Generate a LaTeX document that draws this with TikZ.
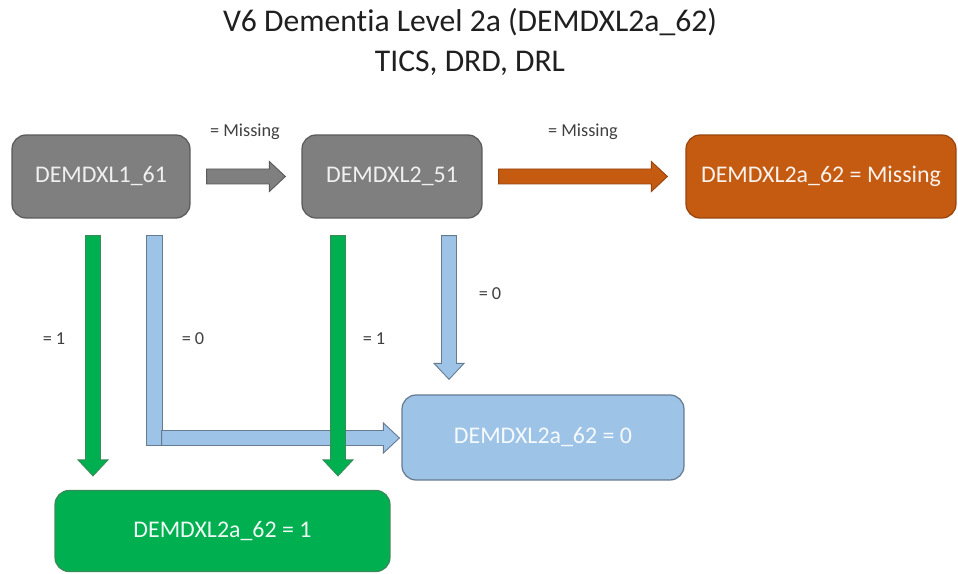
\documentclass[tikz,border=0pt]{standalone}
\usepackage{fontspec}
\setmainfont{Carlito}[Ligatures=NoCommon]
\usetikzlibrary{calc}

\definecolor{boxgray}{HTML}{7F7F7F}
\definecolor{linegray}{HTML}{5A5A5A}
\definecolor{boxorange}{HTML}{C55A11}
\definecolor{lineorange}{HTML}{97440D}
\definecolor{boxblue}{HTML}{9DC3E6}
\definecolor{lineblue}{HTML}{667A90}
\definecolor{boxgreen}{HTML}{00B050}
\definecolor{linegreen}{HTML}{3A8A5A}
\definecolor{labelgray}{HTML}{404040}

\tikzset{
  box/.style={rounded corners=0.28cm, line width=0.7pt, minimum height=1.66cm,
    text=white, font=\fontsize{13.6}{16}\selectfont},
  graybox/.style={box, draw=linegray, fill=boxgray, text=white!88!boxgray},
  orangebox/.style={box, draw=lineorange, fill=boxorange, text=white!92!boxorange},
  bluebox/.style={box, draw=lineblue, fill=boxblue, text=white!92!boxblue},
  greenbox/.style={box, draw=linegreen, fill=boxgreen, text=white!94!boxgreen},
  lbl/.style={text=labelgray, font=\fontsize{10.4}{12}\selectfont},
  % block arrow between two coordinates
  block/.style={line width=0.5pt, line join=miter, to path={
    ($(\tikztostart)!0.15cm!90:(\tikztotarget)$)
    -- ($(\tikztotarget)!0.32cm!(\tikztostart)!0.15cm!-90:(\tikztostart)$)
    -- ($(\tikztotarget)!0.32cm!(\tikztostart)!0.30cm!-90:(\tikztostart)$)
    -- (\tikztotarget)
    -- ($(\tikztotarget)!0.32cm!(\tikztostart)!0.30cm!90:(\tikztostart)$)
    -- ($(\tikztotarget)!0.32cm!(\tikztostart)!0.15cm!90:(\tikztostart)$)
    -- ($(\tikztostart)!0.15cm!-90:(\tikztotarget)$) -- cycle}},
  grayarrow/.style={block, draw=linegray, fill=boxgray},
  orangearrow/.style={block, draw=lineorange, fill=boxorange},
  bluearrow/.style={block, draw=lineblue, fill=boxblue},
  greenarrow/.style={block, draw=linegreen, fill=boxgreen},
}

\begin{document}
\begin{tikzpicture}[x=0.02cm, y=-0.02cm]
    \useasboundingbox (0,0) rectangle (958,574);

    % title
    \node(title) at (470,42) [align=center, text=black!88,
        font=\fontsize{18}{22.8}\selectfont]
        {V6 Dementia Level 2a (DEMDXL2a\_62)\\TICS, DRD, DRL};

    % boxes
    \node(dxl1) at (101,176.5) [graybox, minimum width=3.56cm] {DEMDXL1\_61};
    \node(dxl2) at (392,176.5) [graybox, minimum width=3.60cm] {DEMDXL2\_51};
    \node(miss) at (821,176.5) [orangebox, minimum width=5.40cm] {DEMDXL2a\_62 = Missing};
    \node(zero) at (543,437.5) [bluebox, minimum width=5.64cm, minimum height=1.70cm] {DEMDXL2a\_62 = 0};
    \node(one)  at (222.5,531) [greenbox, minimum width=6.70cm, minimum height=1.62cm] {DEMDXL2a\_62 = 1};

    % arrow ends
    \coordinate(a1) at ($(dxl1.east)+(16,0)$);
    \coordinate(b1) at ($(dxl2.west)+(-16,0)$);
    \coordinate(a2) at ($(dxl2.east)+(16,0)$);
    \coordinate(b2) at ($(miss.west)+(-18,0)$);
    \coordinate(g1s) at (dxl1.south -| 93,0);
    \coordinate(g1t) at (one.north -| 93,0);
    \coordinate(g2s) at (dxl2.south -| 338,0);
    \coordinate(g2t) at (one.north -| 338,0);
    \coordinate(bls) at (146,235);
    \coordinate(blc) at (162,445);
    \coordinate(blj) at (161.6,438);
    \coordinate(blt) at ($(zero.west)+(-2,0.5)$);
    \coordinate(b3s) at (dxl2.south -| 449,0);
    \coordinate(b3t) at (zero.north -| 449,0);

    %%%%% Arrows %%%%%
    \draw[grayarrow] ($(a1)$) to ($(b1)$);
    \draw[orangearrow] ($(a2)$) to ($(b2)$);

    \draw[bluearrow] ($(b3s)+(0,17)$) to ($(b3t)+(0,-15)$);
    \draw[draw=lineblue, fill=boxblue, line width=0.5pt] (bls) rectangle (blc);
    \draw[bluearrow] (blj) to (blt);

    \draw[greenarrow] ($(g1s)+(0,17)$) to ($(g1t)+(0,-14)$);
    \draw[greenarrow] ($(g2s)+(0,17)$) to ($(g2t)+(0,-14)$);

    % labels
    \node(l1) at (245,132) [lbl] {= Missing};
    \node(l2) at (583,132) [lbl] {= Missing};
    \node(l3) at (54,339)  [lbl] {= 1};
    \node(l4) at (193,339) [lbl] {= 0};
    \node(l5) at (374,339) [lbl] {= 1};
    \node(l6) at (490,294) [lbl] {= 0};
\end{tikzpicture}
\end{document}
